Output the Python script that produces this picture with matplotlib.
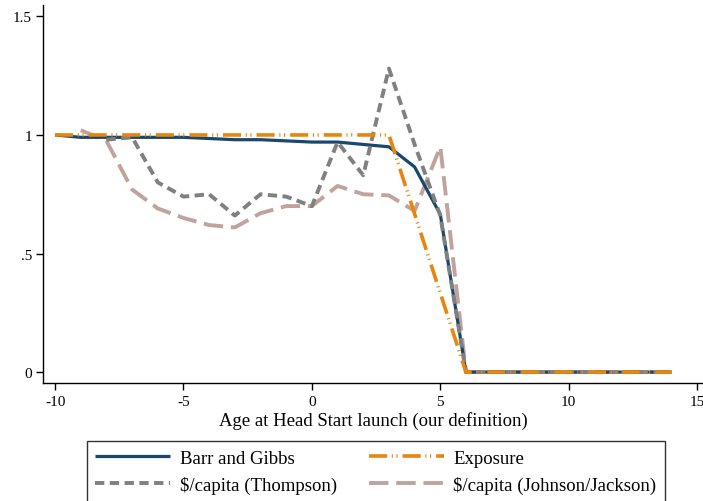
import matplotlib
matplotlib.use("Agg")
import matplotlib.pyplot as plt

plt.rcParams['font.family'] = ['Liberation Serif', 'DejaVu Serif']

ages = list(range(-10, 15))
barr_gibbs = [1.0, 0.99, 0.99, 0.99, 0.99, 0.99, 0.985, 0.98, 0.98, 0.975, 0.97, 0.97, 0.96, 0.95, 0.865, 0.665,
              0, 0, 0, 0, 0, 0, 0, 0, 0]
exposure = [1, 1, 1, 1, 1, 1, 1, 1, 1, 1, 1, 1, 1, 1, 0.667, 0.333,
            0, 0, 0, 0, 0, 0, 0, 0, 0]
ages_thompson = list(range(-8, 15))
thompson = [0.98, 0.99, 0.80, 0.74, 0.75, 0.66, 0.75, 0.74, 0.70, 0.97, 0.83, 1.28, 0.96, 0.66,
            0, 0, 0, 0, 0, 0, 0, 0, 0]
ages_jj = list(range(-9, 15))
johnson_jackson = [1.02, 0.975, 0.77, 0.69, 0.65, 0.62, 0.61, 0.67, 0.70, 0.70, 0.785, 0.75, 0.745, 0.68, 0.95,
                   0, 0, 0, 0, 0, 0, 0, 0, 0]

labels = ["Barr and Gibbs", "Exposure", "$/capita (Thompson)", "$/capita (Johnson/Jackson)"]
xticks = [-10, -5, 0, 5, 10, 15]
yticks = [0, 0.5, 1, 1.5]
yticklabels = ["0", ".5", "1", "1.5"]

fig = plt.figure(figsize=(7.03, 5.02), dpi=100)
ax = fig.add_axes([43/703, (502-384)/502, 1 - 43/703, (384-6)/502])

navy = "#1a476f"
orange = "#e8850c"
gray = "#808080"
rose = "#c0a39c"

l1, = ax.plot(ages, barr_gibbs, color=navy, lw=2.3, solid_capstyle='butt', zorder=2, label=labels[0])
l2, = ax.plot(ages, exposure, color=orange, lw=2.6, linestyle=(0, (5.0, 1.3, 0.3, 1.0, 0.3, 1.4)),
              zorder=4, label=labels[1])
l3, = ax.plot(ages_thompson, thompson, color=gray, lw=2.8, linestyle=(0, (2.4, 1.4)), zorder=3, label=labels[2])
l4, = ax.plot(ages_jj, johnson_jackson, color=rose, lw=2.8, linestyle=(0, (5.0, 2.0)), zorder=1, label=labels[3])

ax.set_xlim(-10.47, 15.23)
ax.set_ylim(-0.046, 1.548)
ax.set_xticks(xticks)
ax.set_xticklabels([str(t) for t in xticks])
ax.set_yticks(yticks)
ax.set_yticklabels(yticklabels)
ax.tick_params(axis='both', direction='out', length=5, width=1, labelsize=11, colors='black')
ax.tick_params(axis='x', pad=4)
ax.tick_params(axis='y', pad=3)
for s in ['top', 'right']:
    ax.spines[s].set_visible(False)
for s in ['left', 'bottom']:
    ax.spines[s].set_linewidth(1)
ax.set_xlabel("Age at Head Start launch (our definition)", fontsize=13.5, labelpad=2)

# row-major order as in the reference: Barr/Exposure on row 1, Thompson/JJ on row 2
handles = [l1, l3, l2, l4]
hlabels = [labels[0], labels[2], labels[1], labels[3]]
leg = fig.legend(handles=handles, labels=hlabels, ncol=2,
                 loc='upper left', bbox_to_anchor=(87/703, (502-443)/502 + 0.001, (665-87)/703, 0.0),
                 mode='expand', fontsize=13.5, frameon=True, fancybox=False, edgecolor='black',
                 handlelength=4.0, handletextpad=0.5, borderaxespad=0, labelspacing=0.45,
                 borderpad=0.45, columnspacing=1.5)
leg.get_frame().set_linewidth(1)

fig.savefig("out.png", dpi=100)
